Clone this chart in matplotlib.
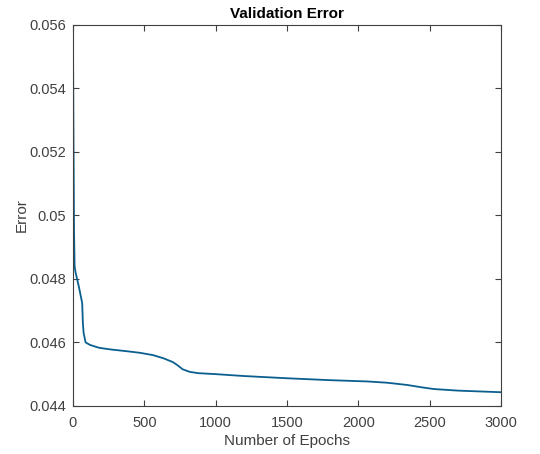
import matplotlib.pyplot as plt
from matplotlib.ticker import FormatStrFormatter

# validation error curve
epochs = [1, 4, 8, 12, 19, 42, 65, 70, 75, 89, 120, 183, 260, 400, 472, 560, 634,
          700, 730, 750, 770, 820, 880, 1000, 1200, 1500, 1800, 2060, 2200, 2340,
          2450, 2530, 2700, 3000]
error = [0.0553, 0.0525, 0.0495, 0.0484, 0.0482, 0.04775, 0.04724, 0.0466, 0.0463,
         0.0460, 0.04592, 0.04583, 0.04578, 0.04571, 0.04567, 0.04560, 0.04550,
         0.04538, 0.04529, 0.04522, 0.04515, 0.04507, 0.04503, 0.04500, 0.04494,
         0.04487, 0.04481, 0.04477, 0.04473, 0.04466, 0.04458, 0.04453, 0.04448,
         0.04443]

xticks = [0, 500, 1000, 1500, 2000, 2500, 3000]
yticks = [0.044, 0.046, 0.048, 0.05, 0.052, 0.054, 0.056]

plt.rcParams['font.family'] = ['Liberation Sans', 'DejaVu Sans']

fig = plt.figure(figsize=(5.4, 4.54), dpi=100)
ax = fig.add_axes([0.135, 0.106, 0.793, 0.839])
ax.plot(epochs, error, color='#0a5f8f', lw=1.3)

ax.set_xlim(0, 3000)
ax.set_ylim(0.044, 0.056)
ax.set_xticks(xticks)
ax.set_yticks(yticks)
ax.yaxis.set_major_formatter(FormatStrFormatter('%g'))
ax.tick_params(direction='in', length=4, labelsize=10.5, colors='#404040',
               top=True, right=True)
ax.tick_params(axis='x', pad=7)
ax.tick_params(axis='y', pad=5)
for s in ax.spines.values():
    s.set_color('#404040')
    s.set_linewidth(0.8)

ax.set_title('Validation Error', fontsize=11, fontweight='bold', pad=5)
ax.set_xlabel('Number of Epochs', fontsize=11, color='#404040', labelpad=3)
ax.set_ylabel('Error', fontsize=11, color='#404040', labelpad=0)

fig.savefig('out.png', dpi=100)
